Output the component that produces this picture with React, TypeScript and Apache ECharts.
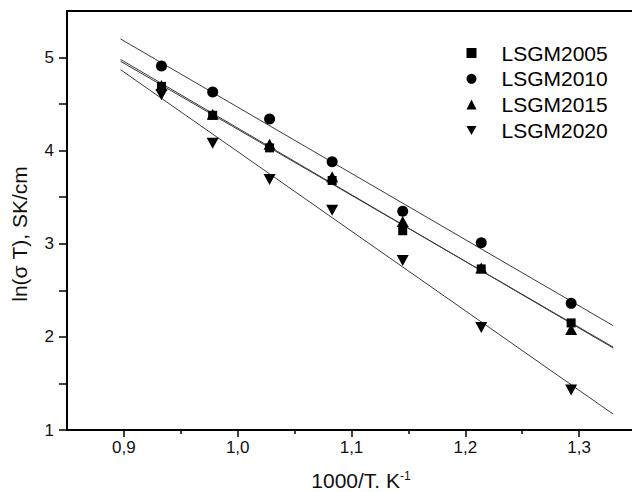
import React, { useEffect, useRef } from 'react';
import * as echarts from 'echarts';

const xValues = [0.933, 0.978, 1.028, 1.083, 1.145, 1.214, 1.293];
const lsgm2005 = [4.69, 4.38, 4.03, 3.68, 3.14, 2.73, 2.15];
const lsgm2010 = [4.91, 4.63, 4.34, 3.88, 3.35, 3.01, 2.36];
const lsgm2015 = [4.7, 4.39, 4.07, 3.72, 3.24, 2.74, 2.08];
const lsgm2020 = [4.6, 4.08, 3.69, 3.36, 2.82, 2.1, 1.43];

const fitX = [0.897, 1.33];
const fit2005 = [4.98, 1.88];
const fit2010 = [5.2, 2.12];
const fit2015 = [4.96, 1.89];
const fit2020 = [4.87, 1.17];

const seriesNames = ['LSGM2005', 'LSGM2010', 'LSGM2015', 'LSGM2020'];
const xMajorTicks = [0.9, 1.0, 1.1, 1.2, 1.3];
const xMinorTicks = [0.95, 1.05, 1.15, 1.25];
const yTicks = [1, 1.5, 2, 2.5, 3, 3.5, 4, 4.5, 5];
const yLabels = [1, 2, 3, 4, 5];

const FONT = "'Liberation Sans', Arial, sans-serif";
const DOWN_TRI = 'path://M0,0L20,0L10,18Z';

const pair = (xs: number[], ys: number[]) => xs.map((x, i) => [x, ys[i]]);

export default function App() {
  const ref = useRef<HTMLDivElement>(null);
  useEffect(() => {
    if (!ref.current) return;
    const chart = echarts.init(ref.current, undefined, { renderer: 'svg' });
    const fitLine = (name: string, ys: number[]) => ({
      name,
      type: 'line',
      data: pair(fitX, ys),
      symbol: 'none',
      silent: true,
      lineStyle: { color: '#3a3a3a', width: 1 },
      z: 1,
    });
    const scatter = (name: string, ys: number[], symbol: string, size: any) => ({
      name,
      type: 'scatter',
      data: pair(xValues, ys),
      symbol,
      symbolSize: size,
      itemStyle: { color: '#000', opacity: 1 },
      z: 3,
    });
    chart.setOption({
      animation: false,
      backgroundColor: '#fff',
      grid: {
        left: 67,
        top: 11,
        right: -4,
        bottom: 62,
        containLabel: false,
        outerBoundsMode: 'none',
        show: true,
        borderColor: '#000',
        borderWidth: 2,
        backgroundColor: 'transparent',
      },
      legend: {
        data: seriesNames,
        orient: 'vertical',
        left: 466.5,
        top: 42.5,
        padding: 0,
        itemWidth: 10,
        itemHeight: 10,
        itemGap: 4.8,
        textStyle: { fontFamily: FONT, fontSize: 21, color: '#000', padding: [0, 0, 0, 20] },
      },
      xAxis: [
        {
          type: 'value',
          min: 0.85,
          max: 1.35,
          axisLine: { show: true, onZero: false, lineStyle: { color: '#000', width: 2 } },
          axisTick: {
            show: true,
            inside: false,
            length: 7,
            customValues: xMajorTicks,
            lineStyle: { color: '#000', width: 1.5 },
          },
          axisLabel: {
            customValues: xMajorTicks,
            margin: 9,
            fontFamily: FONT,
            fontSize: 17,
            color: '#111',
            formatter: (v: number) => v.toFixed(1).replace('.', ','),
          },
          splitLine: { show: false },
        },
        {
          type: 'value',
          min: 0.85,
          max: 1.35,
          position: 'bottom',
          axisLine: { show: false },
          axisTick: {
            show: true,
            inside: false,
            length: 4,
            customValues: xMinorTicks,
            lineStyle: { color: '#000', width: 1.5 },
          },
          axisLabel: { show: false },
          splitLine: { show: false },
        },
      ],
      yAxis: {
        type: 'value',
        min: 1,
        max: 5.5,
        axisLine: { show: true, onZero: false, lineStyle: { color: '#000', width: 2 } },
        axisTick: {
          show: true,
          inside: false,
          length: 8,
          customValues: yTicks,
          lineStyle: { color: '#000', width: 1.5 },
        },
        axisLabel: {
          customValues: yLabels,
          margin: 13,
          fontFamily: FONT,
          fontSize: 17,
          color: '#111',
          formatter: (v: number) => String(v),
        },
        splitLine: { show: false },
      },
      graphic: [
        {
          type: 'text',
          x: 19,
          y: 234,
          rotation: Math.PI / 2,
          style: {
            text: 'ln(σ T), SK/cm',
            fontFamily: FONT,
            fontSize: 21,
            fill: '#111',
            align: 'center',
            verticalAlign: 'middle',
          },
        },
        {
          type: 'text',
          x: 361,
          y: 480,
          style: {
            text: '1000/T. K{sup|-1}',
            fontFamily: FONT,
            fontSize: 21,
            fill: '#111',
            align: 'center',
            verticalAlign: 'middle',
            rich: {
              sup: { fontFamily: FONT, fontSize: 12, fill: '#111', verticalAlign: 'top' },
            },
          },
        },
      ],
      series: [
        fitLine('fit2005', fit2005),
        fitLine('fit2010', fit2010),
        fitLine('fit2015', fit2015),
        fitLine('fit2020', fit2020),
        scatter(seriesNames[0], lsgm2005, 'rect', 9),
        scatter(seriesNames[1], lsgm2010, 'circle', 11),
        scatter(seriesNames[2], lsgm2015, 'triangle', [12, 11]),
        scatter(seriesNames[3], lsgm2020, DOWN_TRI, [12, 11]),
      ],
    });
    return () => chart.dispose();
  }, []);
  return (
    <div
      ref={ref}
      style={{ position: 'fixed', left: 0, top: 0, width: 632, height: 492 }}
    />
  );
}
